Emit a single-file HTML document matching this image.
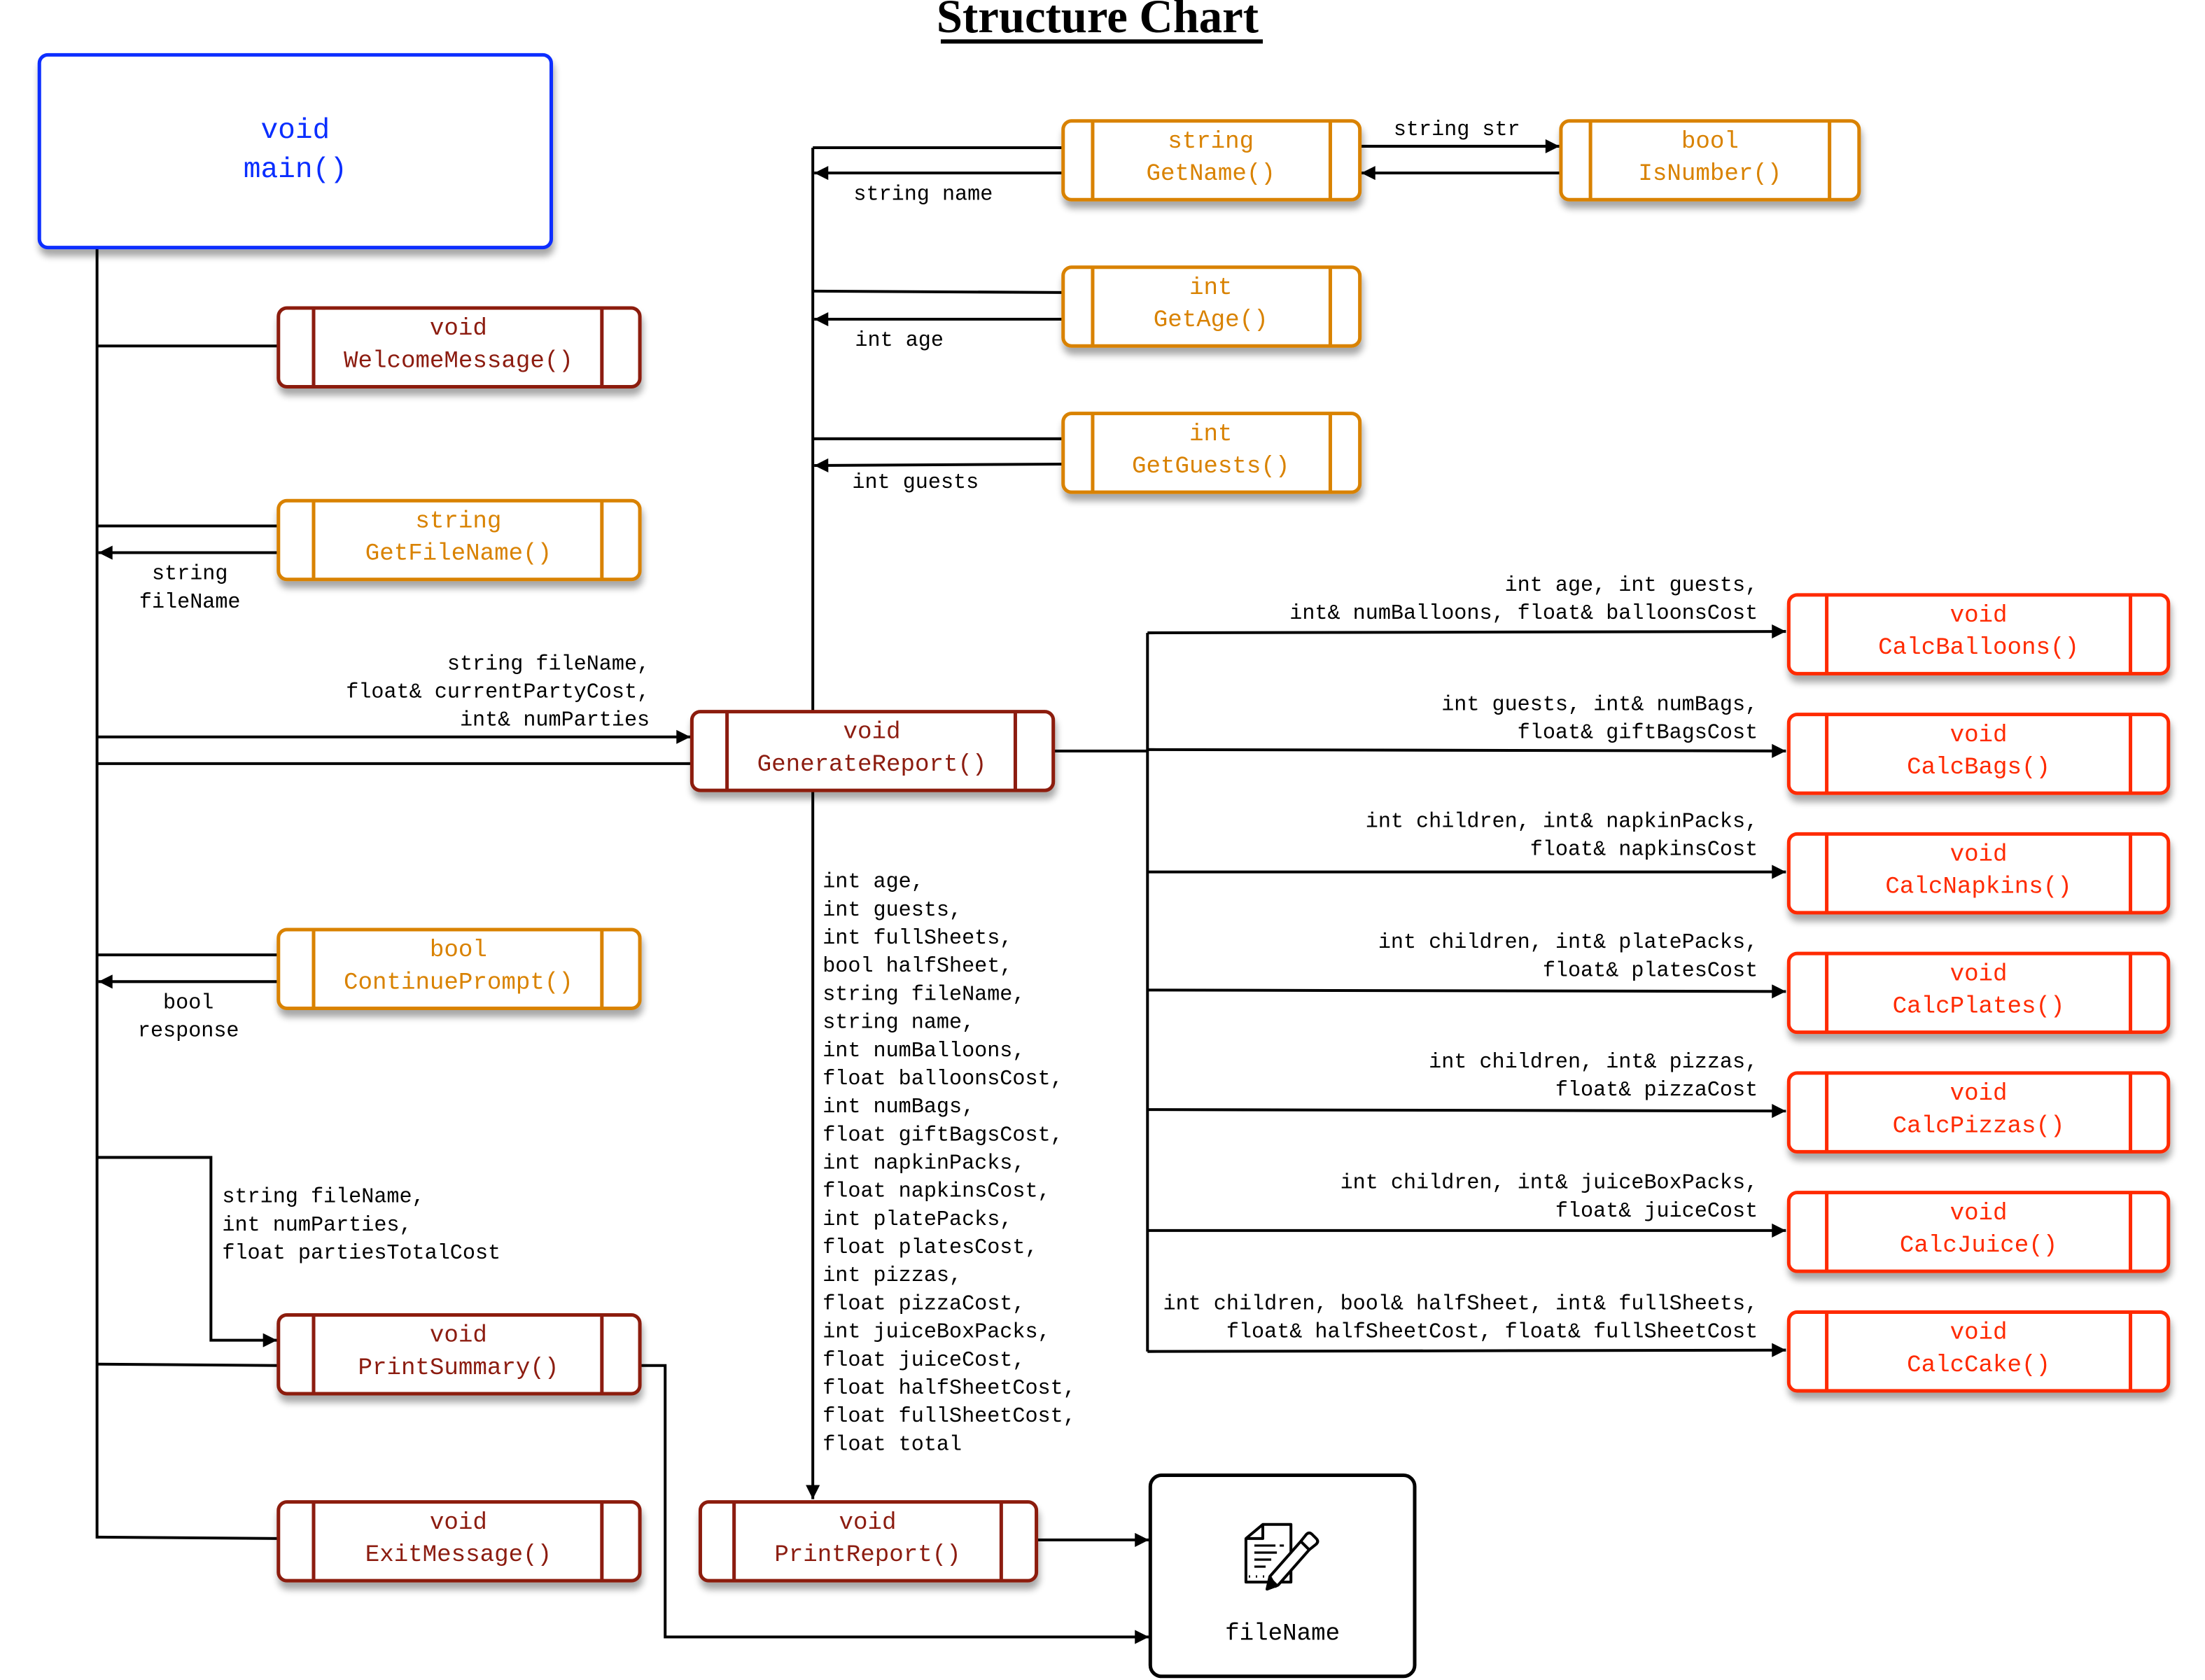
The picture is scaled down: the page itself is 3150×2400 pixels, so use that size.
<!DOCTYPE html>
<html><head><meta charset="utf-8">
<style>
html,body{margin:0;padding:0;background:#fff;}
svg{display:block;}
text{font-family:"Liberation Mono","DejaVu Sans Mono",monospace;}
</style></head>
<body>
<svg width="3150" height="2400" viewBox="0 0 1568 1194.6" preserveAspectRatio="none" xmlns="http://www.w3.org/2000/svg">
<defs>
<marker id="ah" viewBox="0 0 10 10" refX="10" refY="5" markerWidth="12" markerHeight="10" markerUnits="userSpaceOnUse" orient="auto">
<path d="M0,0 L10,5 L0,10 z" fill="#000"/>
</marker>
<filter id="sh" x="-10%" y="-20%" width="130%" height="160%">
<feGaussianBlur in="SourceAlpha" stdDeviation="2.5"/>
<feOffset dx="1" dy="5" result="o"/>
<feComponentTransfer><feFuncA type="linear" slope="0.35"/></feComponentTransfer>
<feMerge><feMergeNode/><feMergeNode in="SourceGraphic"/></feMerge>
</filter>
</defs>
<rect width="1568" height="1194.6" fill="#fff"/>

<text x="666" y="23" textLength="229" lengthAdjust="spacingAndGlyphs" style="font-family:'Liberation Serif',serif;font-weight:bold;font-size:34px">Structure Chart</text>
<rect x="669" y="28" width="229" height="3" fill="#000"/>

<g stroke="#000" stroke-width="2" fill="none">
<line x1="69" y1="176" x2="69" y2="1094"/>
<line x1="69" y1="246" x2="198" y2="246"/>
<line x1="198" y1="374" x2="69" y2="374"/>
<line x1="198" y1="393" x2="70" y2="393" marker-end="url(#ah)"/>
<line x1="69" y1="524" x2="491" y2="524" marker-end="url(#ah)"/>
<line x1="69" y1="543" x2="492" y2="543"/>
<line x1="198" y1="679" x2="69" y2="679"/>
<line x1="198" y1="698" x2="70" y2="698" marker-end="url(#ah)"/>
<polyline points="69,823 150,823 150,953 197,953" marker-end="url(#ah)"/>
<line x1="69" y1="970" x2="198" y2="971"/>
<line x1="69" y1="1093" x2="198" y2="1094"/>
<polyline points="455,971 473,971 473,1164 817,1164" marker-end="url(#ah)"/>
<line x1="737" y1="1095" x2="817" y2="1095" marker-end="url(#ah)"/>

<line x1="578" y1="105" x2="578" y2="506"/>
<line x1="578" y1="105" x2="756" y2="105"/>
<line x1="756" y1="123" x2="579" y2="123" marker-end="url(#ah)"/>
<line x1="578" y1="207" x2="756" y2="208"/>
<line x1="756" y1="227" x2="579" y2="227" marker-end="url(#ah)"/>
<line x1="578" y1="312" x2="756" y2="312"/>
<line x1="756" y1="330" x2="579" y2="331" marker-end="url(#ah)"/>
<line x1="967" y1="104" x2="1109" y2="104" marker-end="url(#ah)"/>
<line x1="1110" y1="123" x2="968" y2="123" marker-end="url(#ah)"/>
<line x1="578" y1="562" x2="578" y2="1066" marker-end="url(#ah)"/>

<line x1="749" y1="534" x2="816" y2="534"/>
<line x1="816" y1="450" x2="816" y2="961"/>
<line x1="816" y1="450" x2="1270" y2="449" marker-end="url(#ah)"/>
<line x1="816" y1="533" x2="1270" y2="534" marker-end="url(#ah)"/>
<line x1="816" y1="620" x2="1270" y2="620" marker-end="url(#ah)"/>
<line x1="816" y1="704" x2="1270" y2="705" marker-end="url(#ah)"/>
<line x1="816" y1="789" x2="1270" y2="790" marker-end="url(#ah)"/>
<line x1="816" y1="875" x2="1270" y2="875" marker-end="url(#ah)"/>
<line x1="816" y1="961" x2="1270" y2="960" marker-end="url(#ah)"/>
</g>

<g filter="url(#sh)">
<rect x="28" y="39" width="364" height="137" rx="6" fill="#fff" stroke="#0a2eff" stroke-width="2.5"/>
</g>
<g fill="#0a2eff" font-size="20.5" text-anchor="middle">
<text x="210" y="98">void</text>
<text x="210" y="126">main()</text>
</g>

<g stroke-width="2.5" fill="#fff">
<g stroke="#8c1c10">
<rect x="198" y="219" width="257" height="56" rx="6" filter="url(#sh)"/>
<rect x="492" y="506" width="257" height="56" rx="6" filter="url(#sh)"/>
<rect x="198" y="935" width="257" height="56" rx="6" filter="url(#sh)"/>
<rect x="198" y="1068" width="257" height="56" rx="6" filter="url(#sh)"/>
<rect x="498" y="1068" width="239" height="56" rx="6" filter="url(#sh)"/>
<path d="M223,219V275M428,219V275M517,506V562M722,506V562M223,935V991M428,935V991M223,1068V1124M428,1068V1124M522,1068V1124M712,1068V1124"/>
</g>
<g stroke="#d98200">
<rect x="198" y="356" width="257" height="56" rx="6" filter="url(#sh)"/>
<rect x="198" y="661" width="257" height="56" rx="6" filter="url(#sh)"/>
<rect x="756" y="86" width="211" height="56" rx="6" filter="url(#sh)"/>
<rect x="1110" y="86" width="212" height="56" rx="6" filter="url(#sh)"/>
<rect x="756" y="190" width="211" height="56" rx="6" filter="url(#sh)"/>
<rect x="756" y="294" width="211" height="56" rx="6" filter="url(#sh)"/>
<path d="M223,356V412M428,356V412M223,661V717M428,661V717M777,86V142M946,86V142M1131,86V142M1301,86V142M777,190V246M946,190V246M777,294V350M946,294V350"/>
</g>
<g stroke="#ff2a00">
<rect x="1272" y="423" width="270" height="56" rx="6" filter="url(#sh)"/>
<rect x="1272" y="508" width="270" height="56" rx="6" filter="url(#sh)"/>
<rect x="1272" y="593" width="270" height="56" rx="6" filter="url(#sh)"/>
<rect x="1272" y="678" width="270" height="56" rx="6" filter="url(#sh)"/>
<rect x="1272" y="763" width="270" height="56" rx="6" filter="url(#sh)"/>
<rect x="1272" y="848" width="270" height="56" rx="6" filter="url(#sh)"/>
<rect x="1272" y="933" width="270" height="56" rx="6" filter="url(#sh)"/>
<path d="M1299,423V479M1515,423V479M1299,508V564M1515,508V564M1299,593V649M1515,593V649M1299,678V734M1515,678V734M1299,763V819M1515,763V819M1299,848V904M1515,848V904M1299,933V989M1515,933V989"/>
</g>
</g>

<g font-size="17" text-anchor="middle">
<g fill="#8c1c10">
<text x="326" y="238">void</text><text x="326" y="261">WelcomeMessage()</text>
<text x="620" y="525">void</text><text x="620" y="548">GenerateReport()</text>
<text x="326" y="954">void</text><text x="326" y="977">PrintSummary()</text>
<text x="326" y="1087">void</text><text x="326" y="1110">ExitMessage()</text>
<text x="617" y="1087">void</text><text x="617" y="1110">PrintReport()</text>
</g>
<g fill="#d98200">
<text x="326" y="375">string</text><text x="326" y="398">GetFileName()</text>
<text x="326" y="680">bool</text><text x="326" y="703">ContinuePrompt()</text>
<text x="861" y="105">string</text><text x="861" y="128">GetName()</text>
<text x="1216" y="105">bool</text><text x="1216" y="128">IsNumber()</text>
<text x="861" y="209">int</text><text x="861" y="232">GetAge()</text>
<text x="861" y="313">int</text><text x="861" y="336">GetGuests()</text>
</g>
<g fill="#ff2a00">
<text x="1407" y="442">void</text><text x="1407" y="465">CalcBalloons()</text>
<text x="1407" y="527">void</text><text x="1407" y="550">CalcBags()</text>
<text x="1407" y="612">void</text><text x="1407" y="635">CalcNapkins()</text>
<text x="1407" y="697">void</text><text x="1407" y="720">CalcPlates()</text>
<text x="1407" y="782">void</text><text x="1407" y="805">CalcPizzas()</text>
<text x="1407" y="867">void</text><text x="1407" y="890">CalcJuice()</text>
<text x="1407" y="952">void</text><text x="1407" y="975">CalcCake()</text>
</g>
</g>

<rect x="818" y="1049" width="188" height="143" rx="8" fill="#fff" stroke="#000" stroke-width="2.5"/>
<g stroke="#000" stroke-width="2" fill="none" stroke-linejoin="round">
<path d="M898,1084 H918 V1125 H886 V1094 Z M886,1094 H898 V1084"/>
<path d="M892,1099 H907 M910,1099 H913 M892,1104 H908 M892,1109 H904 M892,1114 H900" stroke-width="1.6"/>
<path d="M888,1121 h1 M893,1121 h1 M898,1121 h1 M914,1121 h1" stroke-width="1.6"/>
<path d="M907,1128 L903,1121 L925,1096 L931,1102 L909,1127 Z" fill="#fff"/>
<path d="M925,1096 L929,1091 Q931,1089 933,1091 L936,1094 Q938,1096 936,1098 L931,1102"/>
<path d="M903,1121 L901,1130 L909,1127" fill="#000"/>
</g>
<text x="912" y="1166" font-size="17" text-anchor="middle" fill="#000">fileName</text>

<g font-size="15" fill="#000">
<text x="135" y="412" text-anchor="middle">string</text>
<text x="135" y="432" text-anchor="middle">fileName</text>
<text x="134" y="717" text-anchor="middle">bool</text>
<text x="134" y="737" text-anchor="middle">response</text>
<g text-anchor="end">
<text x="462" y="476">string fileName,</text>
<text x="462" y="496">float&amp; currentPartyCost,</text>
<text x="462" y="516">int&amp; numParties</text>
</g>
<text x="158" y="855">string fileName,</text>
<text x="158" y="875">int numParties,</text>
<text x="158" y="895">float partiesTotalCost</text>
<text x="607" y="142">string name</text>
<text x="608" y="246">int age</text>
<text x="606" y="347">int guests</text>
<text x="1036" y="96" text-anchor="middle">string str</text>
<g>
<text x="585" y="631">int age,</text>
<text x="585" y="651">int guests,</text>
<text x="585" y="671">int fullSheets,</text>
<text x="585" y="691">bool halfSheet,</text>
<text x="585" y="711">string fileName,</text>
<text x="585" y="731">string name,</text>
<text x="585" y="751">int numBalloons,</text>
<text x="585" y="771">float balloonsCost,</text>
<text x="585" y="791">int numBags,</text>
<text x="585" y="811">float giftBagsCost,</text>
<text x="585" y="831">int napkinPacks,</text>
<text x="585" y="851">float napkinsCost,</text>
<text x="585" y="871">int platePacks,</text>
<text x="585" y="891">float platesCost,</text>
<text x="585" y="911">int pizzas,</text>
<text x="585" y="931">float pizzaCost,</text>
<text x="585" y="951">int juiceBoxPacks,</text>
<text x="585" y="971">float juiceCost,</text>
<text x="585" y="991">float halfSheetCost,</text>
<text x="585" y="1011">float fullSheetCost,</text>
<text x="585" y="1031">float total</text>
</g>
<g text-anchor="end">
<text x="1250" y="420">int age, int guests,</text>
<text x="1250" y="440">int&amp; numBalloons, float&amp; balloonsCost</text>
<text x="1250" y="505">int guests, int&amp; numBags,</text>
<text x="1250" y="525">float&amp; giftBagsCost</text>
<text x="1250" y="588">int children, int&amp; napkinPacks,</text>
<text x="1250" y="608">float&amp; napkinsCost</text>
<text x="1250" y="674">int children, int&amp; platePacks,</text>
<text x="1250" y="694">float&amp; platesCost</text>
<text x="1250" y="759">int children, int&amp; pizzas,</text>
<text x="1250" y="779">float&amp; pizzaCost</text>
<text x="1250" y="845">int children, int&amp; juiceBoxPacks,</text>
<text x="1250" y="865">float&amp; juiceCost</text>
<text x="1250" y="931">int children, bool&amp; halfSheet, int&amp; fullSheets,</text>
<text x="1250" y="951">float&amp; halfSheetCost, float&amp; fullSheetCost</text>
</g>
</g>
</svg>
</body></html>
